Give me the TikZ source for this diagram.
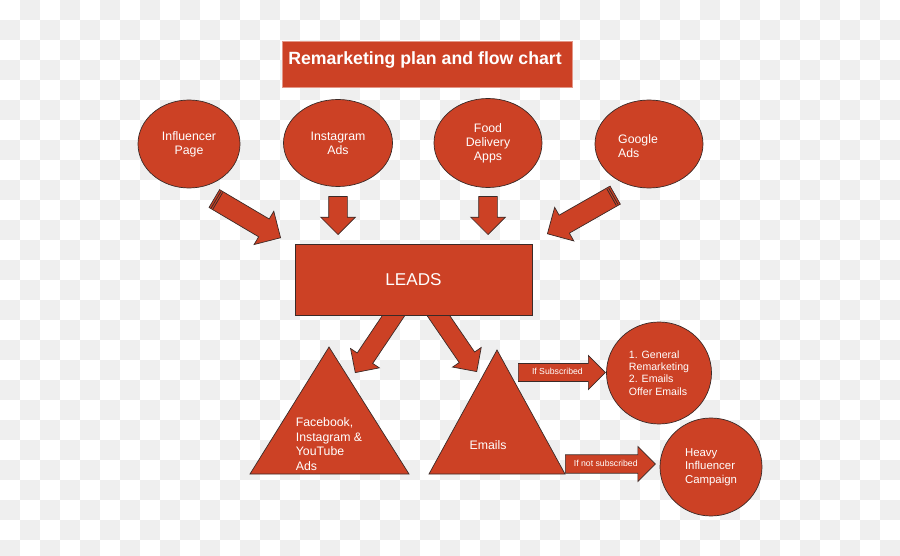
\documentclass[tikz,border=0pt]{standalone}
\usepackage{fontspec}
\setmainfont{Liberation Sans}
\usetikzlibrary{shapes.geometric, shapes.arrows, calc}
\definecolor{berry}{HTML}{CC4125}
\definecolor{edge}{HTML}{3B2A27}
\definecolor{chk}{HTML}{EFEFEF}
% thin bars across the tail of a block arrow
\newcommand{\tailbar}[2]{\draw[edge,line width=0.8pt] ($(#1.tail)!#2!(#1.tip)!9.5pt!90:(#1.tip)$) -- ($(#1.tail)!#2!(#1.tip)!9.5pt!-90:(#1.tip)$);}

\begin{document}
\begin{tikzpicture}[x=1pt,y=-1pt,
  shp/.style={draw=edge,line width=0.7pt,fill=berry},
  ov/.style={shp,ellipse,inner sep=0pt,text=white,align=center,font=\fontsize{12.3}{14}\selectfont},
  blk/.style={shp,single arrow,single arrow head extend=8pt,inner xsep=0pt,inner ysep=9pt,minimum width=34pt,text=white,font=\fontsize{8.7}{10}\selectfont},
  lbl/.style={text=white,align=left,inner sep=0pt,font=\fontsize{12.3}{14.5}\selectfont}]
  \useasboundingbox (0,0) rectangle (900,556);
  % checkered backdrop
  \begin{scope}
    \clip (0,0) rectangle (900,556);
    \foreach \i in {0,...,44} \foreach \j in {0,...,27}
      {\ifodd\numexpr\i+\j\relax \fill[chk] (20*\i,20*\j) rectangle ++(20,20);\fi}
  \end{scope}

  \node[fill=berry,draw=berry!55!white,line width=0.7pt,minimum width=290pt,minimum height=46pt] (ttl) at (427,64) {};
  \node[text=white,font=\bfseries\fontsize{17.7}{20}\selectfont] (ttltxt) at (425,59.5) {Remarketing plan and flow chart};

  \node[ov,minimum width=102pt,minimum height=88pt] (inf) at (189,144) {Influencer\\Page};
  \node[ov,minimum width=109pt,minimum height=87pt] (insta) at (338,143) {Instagram\\Ads};
  \node[ov,minimum width=108pt,minimum height=89pt] (food) at (488,143) {Food\\Delivery\\Apps};
  \node[ov,minimum width=108pt,minimum height=88pt] (goog) at (649,144) {};
  \node[lbl,anchor=west] (googtxt) at (618,146) {Google\\Ads};

  % arrows out of the leads box (drawn first, box covers the tails)
  \node[blk,minimum height=82pt,minimum width=32pt,rotate=-123.9,anchor=tip] (l1) at (355,373) {};
  \node[blk,minimum height=82pt,minimum width=32pt,rotate=-55.6,anchor=tip] (l2) at (477,372) {};
  \node[shp,minimum width=237pt,minimum height=71pt,text=white,font=\fontsize{17.1}{20}\selectfont] (leads) at (413.5,279.5) {LEADS};

  \node[blk,minimum height=38pt,rotate=-90,anchor=tip] (d1) at (338,235) {};
  \node[blk,minimum height=38pt,rotate=-90,anchor=tip] (d2) at (488,235) {};
  \node[blk,minimum height=77pt,minimum width=38pt,inner ysep=10pt,single arrow head extend=9pt,rotate=-30.6,anchor=tip] (g1) at (281,238) {};
  \tailbar{g1}{2.5pt}\tailbar{g1}{4.5pt}
  \node[blk,minimum height=78pt,minimum width=37pt,inner ysep=10pt,single arrow head extend=9pt,rotate=209.7,anchor=tip] (g2) at (547,234) {};
  \tailbar{g2}{2.5pt}\tailbar{g2}{4.5pt}

  \draw[shp] (250,474) -- (329,347) -- (409,474) -- cycle;
  \draw[shp] (429,474) -- (497,350) -- (565,474) -- cycle;
  \node[lbl] (fb) at (329,444) {Facebook,\\Instagram \&\\YouTube\\Ads};
  \node[lbl] (mail) at (488,445) {Emails};

  \node[ov,minimum width=105pt,minimum height=102pt,align=left,font=\fontsize{10.6}{12.4}\selectfont] (remk) at (659,373) {1. General\\Remarketing\\2. Emails\\Offer Emails};
  \node[ov,minimum width=102pt,minimum height=98pt,align=left,font=\fontsize{11.4}{13.5}\selectfont] (heavy) at (711,467) {Heavy\\Influencer\\Campaign};

  \node[blk,minimum height=87pt,inner ysep=4.5pt,text height=6pt,text depth=2pt,anchor=tail] (sub) at (518,372.5) {If Subscribed};
  \node[blk,minimum height=90pt,minimum width=35pt,inner ysep=4.5pt,text height=6pt,text depth=2pt,anchor=tail] (nosub) at (565,464) {If not subscribed};
\end{tikzpicture}
\end{document}
